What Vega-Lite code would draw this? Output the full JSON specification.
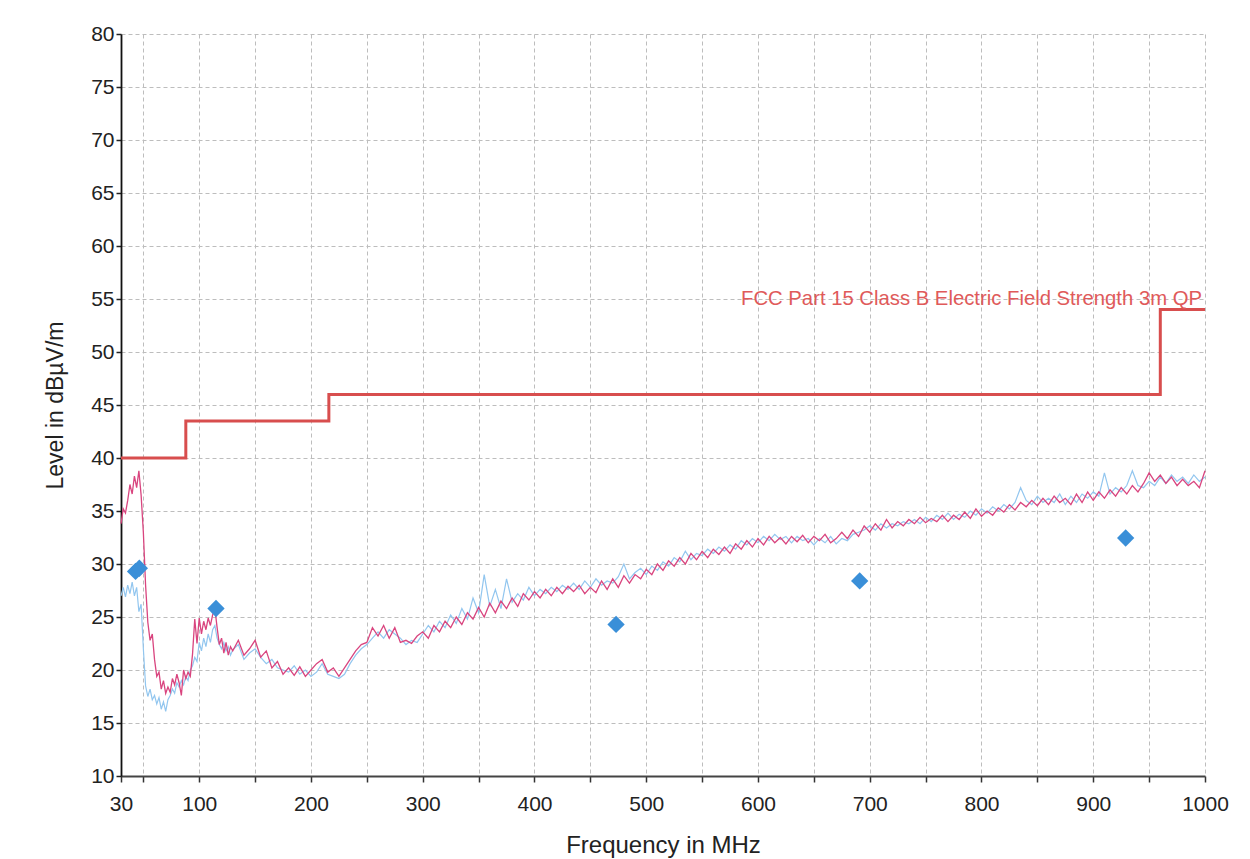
{
  "$schema": "https://vega.github.io/schema/vega-lite/v6.json",
  "width": 1084,
  "height": 742,
  "autosize": {"type": "none"},
  "padding": {"left": 121, "top": 34, "right": 45, "bottom": 83},
  "background": "white",
  "config": {
    "view": {"stroke": null},
    "font": "Liberation Sans",
    "axis": {
      "labelFont": "Liberation Sans",
      "labelFontSize": 21,
      "labelColor": "#222222",
      "titleFont": "Liberation Sans",
      "titleFontWeight": "normal",
      "titleFontSize": 23,
      "titleColor": "#222222",
      "gridColor": "#bdbdbd",
      "gridDash": [4, 3],
      "gridWidth": 1,
      "tickColor": "#222222",
      "domainColor": "#222222",
      "labelOverlap": false,
      "labelFlush": false
    }
  },
  "datasets": {
    "trace": [
      {"f": 30, "m": 33.8, "b": 27.0}, {"f": 32, "m": 35.2, "b": 27.8}, {"f": 34, "m": 34.8, "b": 26.9}, {"f": 36, "m": 36.0, "b": 28.0},
      {"f": 38, "m": 37.5, "b": 27.2}, {"f": 40, "m": 36.6, "b": 28.3}, {"f": 42, "m": 38.3, "b": 27.0}, {"f": 44, "m": 37.2, "b": 27.8},
      {"f": 46, "m": 38.8, "b": 25.5}, {"f": 48, "m": 36.5, "b": 26.2}, {"f": 50, "m": 33.0, "b": 22.0}, {"f": 52, "m": 28.0, "b": 18.5},
      {"f": 54, "m": 24.5, "b": 17.5}, {"f": 56, "m": 22.8, "b": 18.2}, {"f": 58, "m": 23.4, "b": 17.2}, {"f": 60, "m": 21.0, "b": 17.6},
      {"f": 62, "m": 19.4, "b": 16.8}, {"f": 64, "m": 19.8, "b": 17.4}, {"f": 66, "m": 18.2, "b": 16.3}, {"f": 68, "m": 19.0, "b": 17.0},
      {"f": 70, "m": 17.8, "b": 16.1}, {"f": 72, "m": 18.4, "b": 17.2}, {"f": 74, "m": 17.9, "b": 17.6}, {"f": 76, "m": 19.2, "b": 18.2},
      {"f": 78, "m": 18.6, "b": 17.8}, {"f": 80, "m": 19.6, "b": 18.8}, {"f": 82, "m": 18.8, "b": 18.4}, {"f": 84, "m": 17.6, "b": 19.0},
      {"f": 86, "m": 20.0, "b": 18.6}, {"f": 88, "m": 19.2, "b": 19.4}, {"f": 90, "m": 19.8, "b": 19.0}, {"f": 92, "m": 19.4, "b": 20.0},
      {"f": 94, "m": 21.5, "b": 20.4}, {"f": 96, "m": 24.8, "b": 21.2}, {"f": 98, "m": 22.5, "b": 20.8}, {"f": 100, "m": 24.9, "b": 22.6},
      {"f": 102, "m": 23.4, "b": 21.8}, {"f": 104, "m": 24.6, "b": 23.0}, {"f": 106, "m": 23.8, "b": 22.2}, {"f": 108, "m": 24.9, "b": 23.4},
      {"f": 110, "m": 24.2, "b": 22.6}, {"f": 112, "m": 25.2, "b": 23.8}, {"f": 114, "m": 25.8, "b": 24.2}, {"f": 116, "m": 24.0, "b": 23.0},
      {"f": 118, "m": 22.4, "b": 22.4}, {"f": 120, "m": 23.0, "b": 22.0}, {"f": 122, "m": 21.6, "b": 22.6}, {"f": 124, "m": 22.6, "b": 21.8},
      {"f": 126, "m": 21.4, "b": 22.2}, {"f": 128, "m": 22.2, "b": 21.4}, {"f": 130, "m": 21.8, "b": 21.9},
      {"f": 135, "m": 22.8, "b": 22.4}, {"f": 140, "m": 21.4, "b": 21.0}, {"f": 145, "m": 22.0, "b": 21.6}, {"f": 150, "m": 22.8, "b": 22.0},
      {"f": 155, "m": 21.2, "b": 21.2}, {"f": 160, "m": 21.8, "b": 20.6}, {"f": 165, "m": 20.2, "b": 21.0}, {"f": 170, "m": 20.8, "b": 20.2},
      {"f": 175, "m": 19.6, "b": 20.0}, {"f": 180, "m": 20.2, "b": 19.8}, {"f": 185, "m": 19.5, "b": 20.4}, {"f": 190, "m": 20.3, "b": 19.6},
      {"f": 195, "m": 19.4, "b": 20.0}, {"f": 200, "m": 20.0, "b": 19.4}, {"f": 205, "m": 20.6, "b": 19.8}, {"f": 210, "m": 21.0, "b": 20.6},
      {"f": 215, "m": 19.8, "b": 19.6}, {"f": 220, "m": 20.2, "b": 19.4}, {"f": 225, "m": 19.4, "b": 19.2}, {"f": 230, "m": 20.2, "b": 19.6},
      {"f": 235, "m": 21.0, "b": 20.6}, {"f": 240, "m": 21.8, "b": 21.4}, {"f": 245, "m": 22.4, "b": 22.0}, {"f": 250, "m": 22.6, "b": 22.4},
      {"f": 255, "m": 24.0, "b": 23.0}, {"f": 260, "m": 23.2, "b": 23.6}, {"f": 265, "m": 24.2, "b": 23.0}, {"f": 270, "m": 23.0, "b": 23.8},
      {"f": 275, "m": 24.0, "b": 23.4}, {"f": 280, "m": 22.6, "b": 23.0}, {"f": 285, "m": 22.8, "b": 22.4}, {"f": 290, "m": 22.5, "b": 22.8},
      {"f": 295, "m": 23.2, "b": 22.6}, {"f": 300, "m": 23.6, "b": 23.4},
      {"f": 305, "m": 23.0, "b": 24.2}, {"f": 310, "m": 24.2, "b": 23.6}, {"f": 315, "m": 23.6, "b": 24.6}, {"f": 320, "m": 24.6, "b": 24.0},
      {"f": 325, "m": 24.0, "b": 25.2}, {"f": 330, "m": 25.0, "b": 24.4}, {"f": 335, "m": 24.3, "b": 25.8}, {"f": 340, "m": 25.4, "b": 24.8},
      {"f": 345, "m": 24.8, "b": 26.8}, {"f": 350, "m": 25.9, "b": 25.4}, {"f": 355, "m": 25.0, "b": 29.0}, {"f": 360, "m": 26.3, "b": 26.0},
      {"f": 365, "m": 25.4, "b": 27.6}, {"f": 370, "m": 26.5, "b": 25.8}, {"f": 375, "m": 25.8, "b": 28.6}, {"f": 380, "m": 26.8, "b": 26.4},
      {"f": 385, "m": 26.0, "b": 27.2}, {"f": 390, "m": 27.2, "b": 26.6}, {"f": 395, "m": 26.6, "b": 27.8}, {"f": 400, "m": 27.4, "b": 27.0},
      {"f": 405, "m": 26.8, "b": 27.6}, {"f": 410, "m": 27.6, "b": 27.2}, {"f": 415, "m": 27.0, "b": 27.8}, {"f": 420, "m": 27.8, "b": 27.4},
      {"f": 425, "m": 27.2, "b": 28.0}, {"f": 430, "m": 27.9, "b": 27.6}, {"f": 435, "m": 27.4, "b": 28.2}, {"f": 440, "m": 28.0, "b": 27.6},
      {"f": 445, "m": 27.2, "b": 28.4}, {"f": 450, "m": 27.8, "b": 27.8}, {"f": 455, "m": 27.3, "b": 28.6}, {"f": 460, "m": 28.4, "b": 28.0},
      {"f": 465, "m": 27.6, "b": 28.4}, {"f": 470, "m": 28.6, "b": 28.2}, {"f": 475, "m": 27.8, "b": 28.8}, {"f": 480, "m": 28.9, "b": 30.0},
      {"f": 485, "m": 28.2, "b": 28.6}, {"f": 490, "m": 29.0, "b": 29.2}, {"f": 495, "m": 28.6, "b": 29.6}, {"f": 500, "m": 29.5, "b": 29.0},
      {"f": 505, "m": 29.0, "b": 29.8}, {"f": 510, "m": 30.0, "b": 29.4}, {"f": 515, "m": 29.4, "b": 30.2}, {"f": 520, "m": 30.3, "b": 29.8},
      {"f": 525, "m": 29.8, "b": 30.6}, {"f": 530, "m": 30.6, "b": 30.2}, {"f": 535, "m": 30.0, "b": 31.2}, {"f": 540, "m": 31.0, "b": 30.4},
      {"f": 545, "m": 30.4, "b": 31.0}, {"f": 550, "m": 31.2, "b": 30.8}, {"f": 555, "m": 30.6, "b": 31.4}, {"f": 560, "m": 31.4, "b": 31.0},
      {"f": 565, "m": 30.9, "b": 31.6}, {"f": 570, "m": 31.6, "b": 31.2}, {"f": 575, "m": 31.0, "b": 31.8}, {"f": 580, "m": 31.9, "b": 31.4},
      {"f": 585, "m": 31.4, "b": 32.2}, {"f": 590, "m": 32.2, "b": 31.8}, {"f": 595, "m": 31.6, "b": 32.4}, {"f": 600, "m": 32.4, "b": 32.0},
      {"f": 605, "m": 31.8, "b": 32.6}, {"f": 610, "m": 32.6, "b": 32.2}, {"f": 615, "m": 32.0, "b": 32.8}, {"f": 620, "m": 32.5, "b": 32.3},
      {"f": 625, "m": 31.9, "b": 32.6}, {"f": 630, "m": 32.6, "b": 32.0}, {"f": 635, "m": 32.1, "b": 32.6}, {"f": 640, "m": 32.7, "b": 32.2},
      {"f": 645, "m": 32.0, "b": 32.4}, {"f": 650, "m": 32.6, "b": 31.8}, {"f": 655, "m": 32.2, "b": 32.4}, {"f": 660, "m": 32.8, "b": 32.0},
      {"f": 665, "m": 32.0, "b": 32.6}, {"f": 670, "m": 32.4, "b": 31.9}, {"f": 675, "m": 33.0, "b": 32.4}, {"f": 680, "m": 32.4, "b": 32.2},
      {"f": 685, "m": 33.2, "b": 32.8}, {"f": 690, "m": 32.6, "b": 33.0}, {"f": 695, "m": 33.6, "b": 33.2}, {"f": 700, "m": 33.0, "b": 33.6},
      {"f": 705, "m": 33.8, "b": 33.2}, {"f": 710, "m": 33.2, "b": 33.8}, {"f": 715, "m": 34.2, "b": 33.4}, {"f": 720, "m": 33.4, "b": 33.8},
      {"f": 725, "m": 34.0, "b": 33.6}, {"f": 730, "m": 33.6, "b": 34.0}, {"f": 735, "m": 34.2, "b": 33.8}, {"f": 740, "m": 33.8, "b": 34.2},
      {"f": 745, "m": 34.4, "b": 33.8}, {"f": 750, "m": 33.9, "b": 34.4}, {"f": 755, "m": 34.3, "b": 34.0}, {"f": 760, "m": 34.0, "b": 34.6},
      {"f": 765, "m": 34.6, "b": 34.2}, {"f": 770, "m": 34.0, "b": 34.8}, {"f": 775, "m": 34.6, "b": 34.2}, {"f": 780, "m": 34.2, "b": 34.7},
      {"f": 785, "m": 34.9, "b": 34.4}, {"f": 790, "m": 34.3, "b": 35.0}, {"f": 795, "m": 35.2, "b": 34.6}, {"f": 800, "m": 34.5, "b": 35.2},
      {"f": 805, "m": 35.0, "b": 34.8}, {"f": 810, "m": 34.6, "b": 35.4}, {"f": 815, "m": 35.3, "b": 35.0}, {"f": 820, "m": 34.9, "b": 35.6},
      {"f": 825, "m": 35.6, "b": 35.2}, {"f": 830, "m": 35.1, "b": 35.8}, {"f": 835, "m": 35.8, "b": 37.2}, {"f": 840, "m": 35.4, "b": 36.0},
      {"f": 845, "m": 36.0, "b": 35.6}, {"f": 850, "m": 35.5, "b": 36.4}, {"f": 855, "m": 36.2, "b": 35.8}, {"f": 860, "m": 35.6, "b": 36.2},
      {"f": 865, "m": 36.4, "b": 35.8}, {"f": 870, "m": 35.8, "b": 36.6}, {"f": 875, "m": 36.2, "b": 35.6}, {"f": 880, "m": 35.6, "b": 36.4},
      {"f": 885, "m": 36.6, "b": 35.8}, {"f": 890, "m": 35.8, "b": 36.6}, {"f": 895, "m": 36.8, "b": 36.2}, {"f": 900, "m": 36.0, "b": 36.8},
      {"f": 905, "m": 36.8, "b": 36.4}, {"f": 910, "m": 36.2, "b": 38.6}, {"f": 915, "m": 37.0, "b": 36.6}, {"f": 920, "m": 36.4, "b": 37.2},
      {"f": 925, "m": 37.2, "b": 36.8}, {"f": 930, "m": 36.6, "b": 37.4}, {"f": 935, "m": 37.4, "b": 38.8}, {"f": 940, "m": 36.8, "b": 37.4},
      {"f": 945, "m": 37.6, "b": 37.2}, {"f": 950, "m": 38.6, "b": 37.8}, {"f": 955, "m": 37.8, "b": 37.4}, {"f": 960, "m": 38.4, "b": 38.2},
      {"f": 965, "m": 37.6, "b": 37.6}, {"f": 970, "m": 38.2, "b": 38.4}, {"f": 975, "m": 37.4, "b": 37.8}, {"f": 980, "m": 38.0, "b": 38.2},
      {"f": 985, "m": 37.4, "b": 37.6}, {"f": 990, "m": 37.8, "b": 38.4}, {"f": 995, "m": 37.2, "b": 37.8}, {"f": 1000, "m": 38.8, "b": 38.2}
    ],
    "limit": [
      {"f": 30, "level": 40}, {"f": 88, "level": 43.5}, {"f": 216, "level": 46}, {"f": 960, "level": 54}, {"f": 1000, "level": 54}
    ],
    "peaks": [
      {"f": 43.0, "level": 29.3}, {"f": 46.4, "level": 29.6}, {"f": 115, "level": 25.8}, {"f": 473, "level": 24.3}, {"f": 691, "level": 28.4}, {"f": 929, "level": 32.45}
    ],
    "label": [
      {"f": 1000, "level": 55, "text": "FCC Part 15 Class B Electric Field Strength 3m QP"}
    ]
  },
  "encoding": {
    "x": {
      "field": "f",
      "type": "quantitative",
      "scale": {"domain": [30, 1000], "nice": false, "zero": false},
      "axis": {
        "title": "Frequency in MHz",
        "titleFontSize": 24,
        "titlePadding": 19,
        "values": [30, 50, 100, 150, 200, 250, 300, 350, 400, 450, 500, 550, 600, 650, 700, 750, 800, 850, 900, 950, 1000],
        "labelExpr": "datum.value == 30 || datum.value % 100 == 0 ? datum.label : ''",
        "format": "d",
        "tickSize": 6,
        "labelPadding": 11,
        "domainWidth": 2,
        "domainColor": "#444444",
        "tickColor": "#333333",
        "tickWidth": 1.5
      }
    }
  },
  "layer": [
    {
      "data": {"name": "trace"},
      "mark": {"type": "line", "color": "#92c6ef", "strokeWidth": 1.2},
      "encoding": {
        "y": {
          "field": "b",
          "type": "quantitative",
          "title": "Level in dBµV/m",
          "scale": {"domain": [10, 80], "nice": false, "zero": false},
          "axis": {
            "values": [10, 12.5, 15, 17.5, 20, 22.5, 25, 27.5, 30, 32.5, 35, 37.5, 40, 42.5, 45, 47.5, 50, 52.5, 55, 57.5, 60, 62.5, 65, 67.5, 70, 72.5, 75, 77.5, 80],
            "labelExpr": "datum.value % 5 == 0 ? format(datum.value, 'd') : ''",
            "tickSize": 5,
            "tickWidth": 1.5,
            "labelPadding": 2,
            "titlePadding": 23,
            "domainWidth": 1.8,
            "domainColor": "#111111"
          }
        }
      }
    },
    {
      "data": {"name": "trace"},
      "mark": {"type": "line", "color": "#d9457f", "strokeWidth": 1.3},
      "encoding": {
        "y": {"field": "m", "type": "quantitative", "title": "Level in dBµV/m"}
      }
    },
    {
      "data": {"name": "limit"},
      "mark": {"type": "line", "interpolate": "step-after", "color": "#d84e4e", "strokeWidth": 3},
      "encoding": {
        "y": {"field": "level", "type": "quantitative", "title": "Level in dBµV/m"}
      }
    },
    {
      "data": {"name": "peaks"},
      "mark": {"type": "point", "shape": "diamond", "filled": true, "color": "#3a8fd8", "opacity": 1, "size": 300},
      "encoding": {
        "y": {"field": "level", "type": "quantitative", "title": "Level in dBµV/m"}
      }
    },
    {
      "data": {"name": "label"},
      "mark": {"type": "text", "align": "right", "baseline": "middle", "color": "#e05a5a", "fontSize": 20.3, "font": "Liberation Sans", "dx": -3},
      "encoding": {
        "y": {"field": "level", "type": "quantitative", "title": "Level in dBµV/m"},
        "text": {"field": "text"}
      }
    }
  ]
}
